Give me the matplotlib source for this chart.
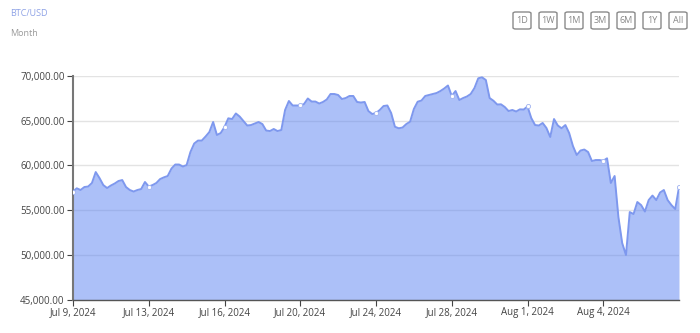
import matplotlib
matplotlib.use("Agg")
import matplotlib.pyplot as plt
from matplotlib.patches import FancyBboxPatch

plt.rcParams['font.family'] = ['Open Sans', 'DejaVu Sans']

# BTC/USD price, equally spaced samples (20 samples per x tick)
prices = [
    57090, 57450, 57260, 57590, 57650, 58040, 59260, 58590, 57810, 57480,
    57760, 57980, 58260, 58370, 57590, 57260, 57090, 57260, 57370, 58150,
    57650, 57810, 58040, 58480, 58670, 58820, 59650, 60100, 60100, 59880,
    60040, 61490, 62440, 62770, 62770, 63220, 63720, 64840, 63390, 63610,
    64280, 65250, 65170, 65790, 65450, 64950, 64450, 64500, 64670, 64840,
    64610, 63890, 63830, 64060, 63830, 63950, 66180, 67180, 66680, 66680,
    66680, 66840, 67460, 67120, 67120, 66900, 67070, 67350, 67960, 67960,
    67850, 67400, 67510, 67740, 67740, 67070, 67010, 67070, 66060, 65730,
    65840, 66180, 66620, 66680, 65840, 64310, 64140, 64220, 64610, 64870,
    66290, 67100, 67230, 67740, 67850, 67960, 68070, 68290, 68570, 68910,
    67740, 68290, 67290, 67510, 67680, 67960, 68630, 69710, 69820, 69520,
    67510, 67210, 66790, 66810, 66510, 66060, 66180, 66010, 66250, 66230,
    66570, 65280, 64500, 64450, 64730, 64170, 63170, 65170, 64450, 64140,
    64500, 63610, 62160, 61160, 61660, 61770, 61490, 60490, 60600, 60600,
    60520, 60790, 58040, 58820, 54250, 51350, 50010, 54800, 54580, 55920,
    55580, 54860, 56140, 56640, 56140, 56980, 57260, 56140, 55580, 55140,
    57560,
]
tick_labels = ["Jul 9, 2024", "Jul 13, 2024", "Jul 16, 2024", "Jul 20, 2024",
               "Jul 24, 2024", "Jul 28, 2024", "Aug 1, 2024", "Aug 4, 2024"]
y_ticks = [45000, 50000, 55000, 60000, 65000, 70000]
buttons = ["1D", "1W", "1M", "3M", "6M", "1Y", "All"]

step = 20
xs = list(range(len(prices)))

fig = plt.figure(figsize=(7, 3.33), dpi=100)
ax = fig.add_axes([73 / 700, 33 / 333, 606 / 700, 224.3 / 333])

ax.fill_between(xs, prices, 45000, color="#5b83f2", alpha=0.5, lw=0, zorder=2)
ax.plot(xs, prices, color="#7e98ee", lw=1.4, zorder=3)
ax.plot(xs[::step], prices[::step], ls="none", marker="o", ms=3,
        mfc="white", mec="#9fb2f0", mew=0.6, zorder=4)

ax.set_xlim(0, len(prices) - 1)
ax.set_ylim(45000, 70000)
ax.set_yticks(y_ticks)
ax.set_yticklabels([f"{v:,.2f}" for v in y_ticks])
ax.set_xticks(xs[::step][:len(tick_labels)])
ax.set_xticklabels(tick_labels)
ax.grid(axis="y", color="#e3e3e3", lw=1, zorder=1)
ax.set_axisbelow(True)

for s in ["top", "right"]:
    ax.spines[s].set_visible(False)
ax.spines["left"].set_color("#777777")
ax.spines["left"].set_linewidth(1.5)
ax.spines["bottom"].set_color("#555555")
ax.spines["bottom"].set_linewidth(1.0)
ax.tick_params(axis="both", labelsize=7, colors="#444444", length=4, width=0.8, pad=2)
ax.tick_params(axis="x", pad=1)

fig.text(10 / 700, 1 - 14 / 333, "BTC/USD", fontsize=6.5, color="#8ea2e6", va="center")
fig.text(10 / 700, 1 - 34 / 333, "Month", fontsize=6.5, color="#9a9a9a", va="center")

for i, b in enumerate(buttons):
    x0 = 513 + i * 26
    box = FancyBboxPatch((x0 / 700, 1 - 29 / 333), 18 / 700, 17 / 333,
                         boxstyle="round,pad=0,rounding_size=0.004",
                         transform=fig.transFigure, fc="white", ec="#8a8a8a", lw=1)
    fig.patches.append(box)
    fig.text((x0 + 9) / 700, 1 - 20.5 / 333, b, fontsize=6.5, color="#888888",
             ha="center", va="center")

fig.savefig("out.png", dpi=100)
